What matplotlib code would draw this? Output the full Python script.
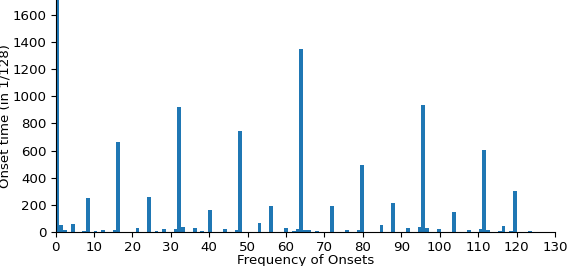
import matplotlib
matplotlib.use("Agg")
import matplotlib.pyplot as plt
import numpy as np

# Histogram of onset positions (0..127) with counts per bin
positions = list(range(128))
counts = [0] * 128
nonzero = {
    0: 1800, 1: 54, 2: 17, 4: 61, 7: 10, 8: 252, 10: 8, 12: 17, 15: 17, 16: 664,
    21: 32, 24: 260, 26: 10, 28: 25, 31: 25, 32: 921, 33: 39, 36: 32, 38: 10,
    40: 164, 44: 25, 47: 17, 48: 745, 53: 69, 56: 193, 60: 32, 62: 10, 63: 25,
    64: 1348, 65: 17, 66: 17, 68: 10, 72: 193, 76: 17, 79: 17, 80: 495, 85: 54,
    88: 216, 92: 32, 95: 39, 96: 936, 97: 32, 100: 25, 104: 150, 108: 17,
    111: 25, 112: 605, 113: 17, 116: 10, 117: 46, 119: 10, 120: 304, 124: 10,
}
for k, v in nonzero.items():
    counts[k] = v

fig = plt.figure(figsize=(5.68, 2.66), dpi=100)
ax = fig.add_axes([55.5 / 568, (266 - 232.3) / 266, (555 - 55.5) / 568, 232.3 / 266])
ax.hist(positions, bins=128, range=(0, 127), weights=counts, color="#1f77b4")
ax.set_xlim(0, 130)
ax.set_ylim(0, 1708)
ax.set_xticks(np.arange(0, 131, 10))
ax.set_yticks(np.arange(0, 1601, 200))
ax.spines["top"].set_visible(False)
ax.spines["right"].set_visible(False)
fs = 9.6
ax.set_xlabel("Frequency of Onsets", fontsize=fs)
ax.set_ylabel("Onset time (in 1/128)", fontsize=fs)
ax.xaxis.set_label_coords(0.5, -0.093)
ax.yaxis.set_label_coords(-0.088, 0.5)
ax.tick_params(labelsize=fs, pad=3)
fig.savefig("out.png", dpi=100)
